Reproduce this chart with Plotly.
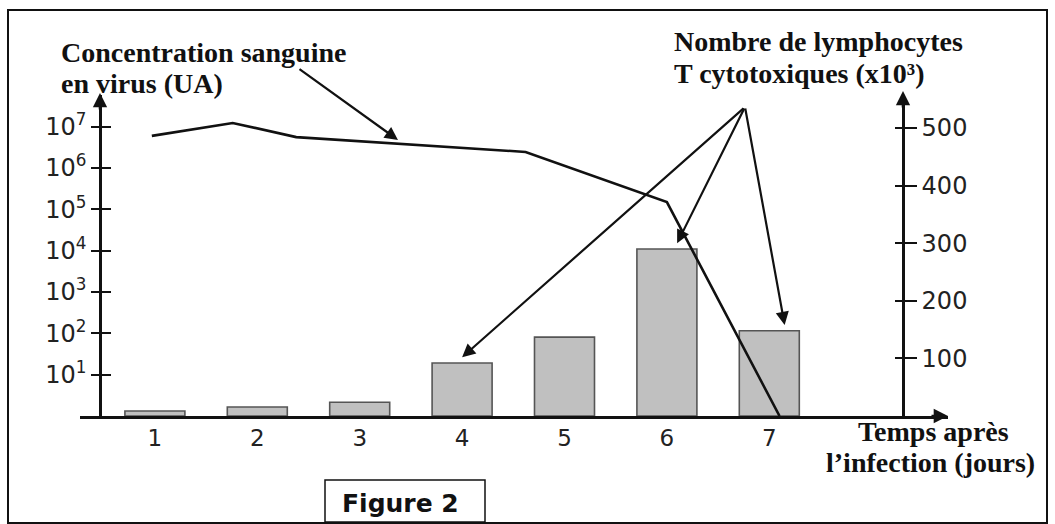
import plotly.graph_objects as go

# ---- data ----
days = [1, 2, 3, 4, 5, 6, 7]
lymphocytes_T = [8.7, 15.6, 24, 92, 137, 290, 148]          # x10^3
virus_time = [0.97, 1.76, 2.38, 4.62, 6.0, 7.1]               # jours
virus_conc = [6.0e6, 1.23e7, 5.6e6, 2.45e6, 1.5e5, 1]          # UA
left_tickvals = [1e1, 1e2, 1e3, 1e4, 1e5, 1e6, 1e7]
left_ticktext = ["10<sup>%d</sup>" % n for n in range(1, 8)]
right_tickvals = [100, 200, 300, 400, 500]

W, H = 1055, 524
def px(x): return x / W
def py(y): return 1 - y / H

Y_BASE, Y_TOP = 416, 95
ydom = [py(Y_BASE), py(Y_TOP)]
LEFT_X, RIGHT_X = 100, 903
X0, X1 = 80, 948
DAY_PX, DAY4_PX = 102.4, 462.1
xr = [4 + (X0 - DAY4_PX) / DAY_PX, 4 + (X1 - DAY4_PX) / DAY_PX]
LOG_PX = 41.33
LIN_PX = 0.576
span = Y_BASE - Y_TOP

tickfont = dict(family="DejaVu Sans", size=24, color="#222")

fig = go.Figure()
fig.add_trace(go.Bar(x=days, y=lymphocytes_T, width=0.586, yaxis="y",
                     marker=dict(color="#c0c0c0", line=dict(color="#555555", width=1.6)),
                     hoverinfo="skip"))
fig.add_trace(go.Scatter(x=virus_time, y=virus_conc, yaxis="y2", mode="lines",
                         line=dict(color="#111111", width=2.6), hoverinfo="skip"))
fig.add_trace(go.Scatter(x=[], y=[], yaxis="y3", hoverinfo="skip"))
fig.add_trace(go.Scatter(x=[], y=[], yaxis="y4", hoverinfo="skip"))

axline = dict(showline=True, linecolor="#111", linewidth=2.6, showgrid=False, zeroline=False)

fig.update_layout(
    width=W, height=H, margin=dict(l=0, r=0, t=0, b=0),
    paper_bgcolor="white", plot_bgcolor="white", showlegend=False,
    xaxis=dict(domain=[px(X0), px(X1)], range=xr, anchor="y", tickvals=days,
               ticks="", tickfont=dict(family="DejaVu Sans", size=23, color="#222"),
               **axline),
    yaxis=dict(domain=ydom, range=[0, span / LIN_PX], side="right", anchor="free",
               position=px(RIGHT_X), tickvals=right_tickvals, ticks="outside",
               ticklen=12, tickwidth=2, tickcolor="#111", tickfont=tickfont, **axline),
    yaxis2=dict(domain=ydom, overlaying="y", type="log", range=[0, span / LOG_PX],
                side="left", anchor="free", position=px(LEFT_X),
                tickvals=left_tickvals, ticktext=left_ticktext, ticks="outside",
                ticklen=8, tickwidth=2, tickcolor="#111", tickfont=tickfont, **axline),
    yaxis3=dict(domain=ydom, overlaying="y", type="log", range=[0, span / LOG_PX],
                side="left", anchor="free", position=px(LEFT_X), tickvals=left_tickvals,
                ticks="inside", ticklen=10, tickwidth=2, tickcolor="#111",
                showticklabels=False, showline=False, showgrid=False, zeroline=False),
    yaxis4=dict(domain=ydom, overlaying="y", range=[0, span / LIN_PX], side="right",
                anchor="free", position=px(RIGHT_X), tickvals=right_tickvals,
                ticks="inside", ticklen=8, tickwidth=2, tickcolor="#111",
                showticklabels=False, showline=False, showgrid=False, zeroline=False),
)

serif = dict(family="Liberation Serif", size=28, color="#111")
def label(text, x, yc, xanchor="left", font=serif):
    fig.add_annotation(text=text, x=px(x), y=py(yc), xref="paper", yref="paper",
                       xanchor=xanchor, yanchor="middle", showarrow=False, font=font,
                       borderpad=0)

label("<b>Concentration sanguine</b>", 60, 52)
label("<b>en virus (UA)</b>", 60, 84)
label("<b>Nombre de lymphocytes</b>", 673, 42)
label("<b>T cytotoxiques (x10³)</b>", 673, 74)
label("<b>Temps après</b>", 933, 431, "center")
label("<b>l’infection (jours)</b>", 930, 463, "center")
label("<b>Figure 2</b>", 400, 503, "center",
      dict(family="DejaVu Sans", size=25, color="#111"))

# axis arrowheads
def arrowhead(x, y, ax, ay):
    fig.add_annotation(x=px(x), y=py(y), xref="paper", yref="paper", text="",
                       showarrow=True, ax=ax, ay=ay, arrowhead=2, arrowsize=1.1,
                       arrowwidth=2.6, arrowcolor="#111")
arrowhead(LEFT_X, 93, 0, 18)
arrowhead(RIGHT_X, 91, 0, 18)
arrowhead(X1, Y_BASE, -18, 0)

# pointer from virus label to curve
fig.add_annotation(x=px(398), y=py(140), xref="paper", yref="paper", text="",
                   showarrow=True, ax=-100, ay=-72, arrowhead=2, arrowsize=1.2,
                   arrowwidth=2.2, arrowcolor="#111")

# pointers from lymphocyte label to bars
apex_x = 4 + (745 - DAY4_PX) / DAY_PX
apex_y = (Y_BASE - 107) / LIN_PX
for d, v, dx in [(4, lymphocytes_T[3], 0.0), (6, lymphocytes_T[5], 0.1), (7, lymphocytes_T[6], 0.15)]:
    fig.add_annotation(x=d + dx, y=v + 10, xref="x", yref="y", axref="x", ayref="y",
                       ax=apex_x, ay=apex_y, text="", showarrow=True, arrowhead=2,
                       arrowsize=1.2, arrowwidth=2.2, arrowcolor="#111")

# frame and figure box
fig.add_shape(type="rect", xref="paper", yref="paper", x0=px(8), x1=px(1047),
              y0=py(523), y1=py(10), line=dict(color="#111", width=2))
fig.add_shape(type="rect", xref="paper", yref="paper", x0=px(325), x1=px(485),
              y0=py(522), y1=py(480), line=dict(color="#111", width=1.5))

fig.write_html("out.html", config={"displayModeBar": False},
               post_script="document.body.style.margin='0';document.body.style.overflow='hidden';")
